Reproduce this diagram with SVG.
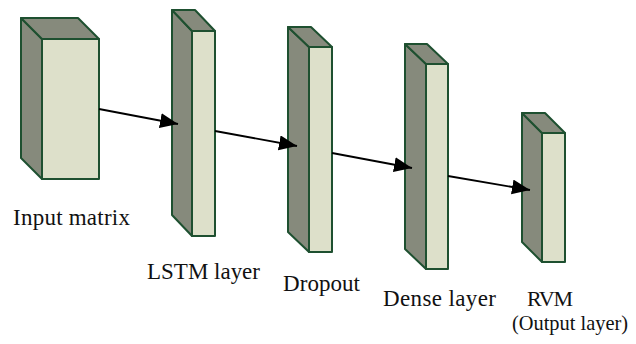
<svg xmlns="http://www.w3.org/2000/svg" width="636" height="344" viewBox="0 0 636 344">
<defs>
<style>
.front{fill:#dde0ca;stroke:#1e5030;stroke-width:2;stroke-linejoin:round}
.side{fill:#868a7c;stroke:#1e5030;stroke-width:2;stroke-linejoin:round}
.conn{stroke:#000;stroke-width:1.8;fill:none;marker-end:url(#ah)}
</style>
<marker id="ah" markerUnits="userSpaceOnUse" markerWidth="19" markerHeight="16" refX="18" refY="7.5" orient="auto">
<path d="M0,0 L18,7.5 L0,15 z" fill="#000"/>
</marker>
</defs>
<rect width="636" height="344" fill="#fff"/>
<g id="input-matrix">
<polygon class="side" points="21,18 42,39 42,179 21,158"/>
<polygon class="side" points="21,18 78,18 99,39 42,39"/>
<rect class="front" x="42" y="39" width="57" height="140"/>
<text font-family="Liberation Serif, Times New Roman, serif" font-size="23" fill="#111" x="13" y="225" textLength="117">Input matrix</text>
</g>
<g id="lstm-layer">
<polygon class="side" points="172,10 192,31 192,236 172,215"/>
<polygon class="side" points="172,10 195,10 215,31 192,31"/>
<rect class="front" x="192" y="31" width="23" height="205"/>
<text font-family="Liberation Serif, Times New Roman, serif" font-size="23" fill="#111" x="147" y="279" textLength="113">LSTM layer</text>
</g>
<g id="dropout">
<polygon class="side" points="288,27 309,47 309,252 288,232"/>
<polygon class="side" points="288,27 311,27 332,47 309,47"/>
<rect class="front" x="309" y="47" width="23" height="205"/>
<text font-family="Liberation Serif, Times New Roman, serif" font-size="23" fill="#111" x="283" y="291" textLength="77">Dropout</text>
</g>
<g id="dense-layer">
<polygon class="side" points="405,44 426,64 426,269 405,249"/>
<polygon class="side" points="405,44 427,44 448,64 426,64"/>
<rect class="front" x="426" y="64" width="22" height="205"/>
<text font-family="Liberation Serif, Times New Roman, serif" font-size="23" fill="#111" x="383" y="306" textLength="113">Dense layer</text>
</g>
<g id="rvm-output">
<polygon class="side" points="522,113 542,133 542,262 522,242"/>
<polygon class="side" points="522,113 545,113 565,133 542,133"/>
<rect class="front" x="542" y="133" width="23" height="129"/>
<text font-family="Liberation Serif, Times New Roman, serif" font-size="22" fill="#111" x="527" y="306" textLength="46">RVM</text>
<text font-family="Liberation Serif, Times New Roman, serif" font-size="21" fill="#111" x="512" y="330" textLength="116" lengthAdjust="spacingAndGlyphs">(Output layer)</text>
</g>
<g id="connectors">
<line class="conn" x1="99" y1="109" x2="178" y2="124"/>
<line class="conn" x1="215" y1="131" x2="297" y2="146"/>
<line class="conn" x1="332" y1="153" x2="412" y2="168"/>
<line class="conn" x1="448" y1="176" x2="530" y2="190"/>
</g>
</svg>
